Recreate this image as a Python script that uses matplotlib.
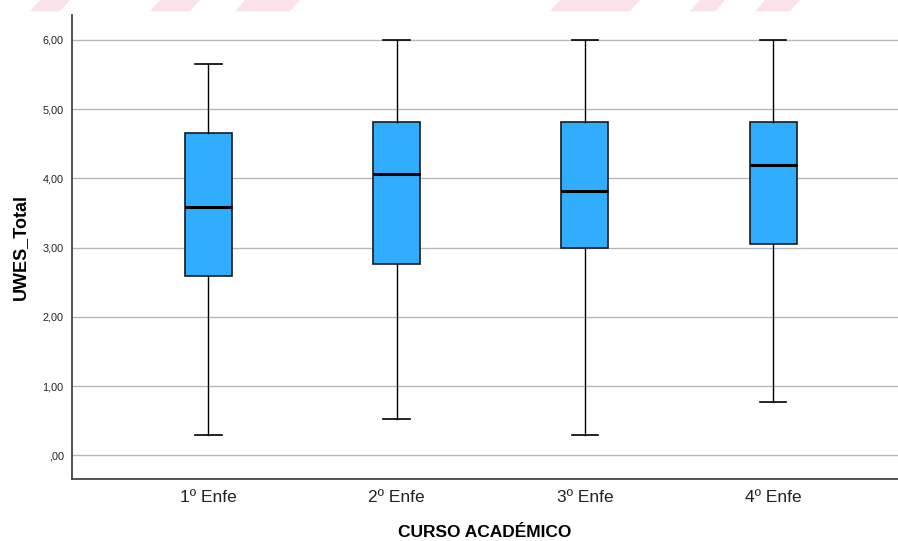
import numpy as np
import matplotlib.pyplot as plt
from matplotlib.patches import Polygon

plt.rcParams['font.family'] = ['Liberation Sans', 'DejaVu Sans']

# cursos y estadísticos de UWES_Total por curso
cursos = ['1º Enfe', '2º Enfe', '3º Enfe', '4º Enfe']
minimo = [0.30, 0.53, 0.30, 0.77]
q1 = [2.59, 2.76, 3.00, 3.06]
mediana = [3.59, 4.06, 3.82, 4.19]
q3 = [4.65, 4.82, 4.82, 4.82]
maximo = [5.65, 6.00, 6.00, 6.00]
ticks_y = [0, 1, 2, 3, 4, 5, 6]
etiquetas_y = [',00', '1,00', '2,00', '3,00', '4,00', '5,00', '6,00']

stats = []
for i in range(len(cursos)):
    stats.append({'label': cursos[i], 'whislo': minimo[i], 'q1': q1[i],
                  'med': mediana[i], 'q3': q3[i], 'whishi': maximo[i], 'fliers': []})

fig = plt.figure(figsize=(8.98, 5.41), dpi=100)
ax = fig.add_axes([0.0802, 0.1146, 0.9198, 0.8577])

ax.bxp(stats, positions=range(len(cursos)), widths=0.25, patch_artist=True,
       boxprops=dict(facecolor='#31adff', edgecolor='#1a1a1a', linewidth=1.2),
       medianprops=dict(color='black', linewidth=2.2),
       whiskerprops=dict(color='black', linewidth=1.0),
       capprops=dict(color='black', linewidth=1.2), capwidths=0.14)

ax.set_xlim(-0.724, 3.663)
ax.set_ylim(-0.34, 6.36)
ax.set_yticks(ticks_y)
ax.set_yticklabels(etiquetas_y)
ax.set_xticks(range(len(cursos)))
ax.set_xticklabels(cursos)
ax.tick_params(axis='y', length=0, pad=6, labelsize=7.8, labelcolor='#222222')
ax.tick_params(axis='x', length=0, pad=8, labelsize=12.5, labelcolor='#222222')

ax.grid(axis='y', color='#b8b8b8', linewidth=1.0)
ax.set_axisbelow(True)
for lado in ['top', 'right']:
    ax.spines[lado].set_visible(False)
for lado in ['left', 'bottom']:
    ax.spines[lado].set_color('#444444')
    ax.spines[lado].set_linewidth(1.3)

ax.set_ylabel('UWES_Total', fontsize=13, fontweight='bold', labelpad=10)
ax.set_xlabel('CURSO ACADÉMICO', fontsize=12.5, fontweight='bold', labelpad=14)

# marca de agua rosa recortada arriba
franja = [(40, 70), (160, 200), (245, 300), (560, 640), (700, 725), (765, 800)]
for x0, x1 in franja:
    p = Polygon([(x0 / 898, 1), (x1 / 898, 1), ((x1 - 10) / 898, 0.979), ((x0 - 10) / 898, 0.979)],
                closed=True, transform=fig.transFigure, facecolor='#f6b8ca', alpha=0.4,
                edgecolor='none')
    fig.patches.append(p)

plt.savefig('out.png', dpi=100)
